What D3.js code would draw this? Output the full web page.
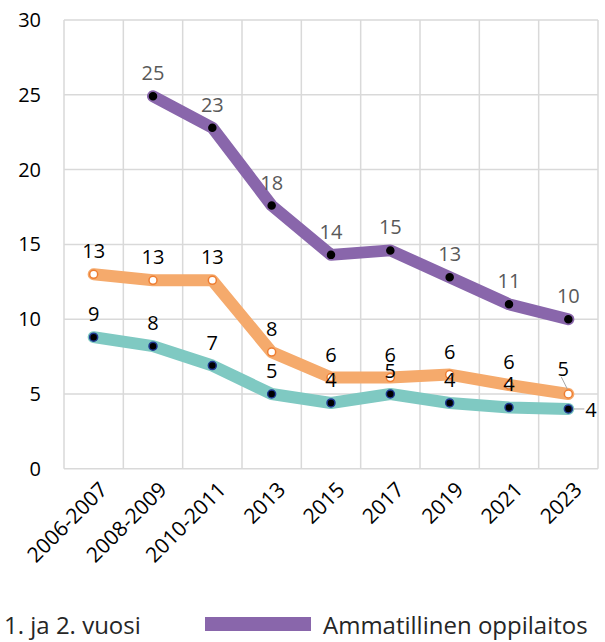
<!DOCTYPE html>
<html lang="fi">
<head>
<meta charset="utf-8">
<script src="https://d3js.org/d3.v7.min.js"></script>
<style>
  body { margin: 0; background: #ffffff; }
  svg { display: block; font-family: "Open Sans", sans-serif; }
</style>
</head>
<body>
<script>
// categories (x axis)
var years = ["2006-2007", "2008-2009", "2010-2011", "2013", "2015", "2017", "2019", "2021", "2023"];
var yTicks = [0, 5, 10, 15, 20, 25, 30];

// series values (null = no value)
var ammatillinen = [null, 24.9, 22.8, 17.6, 14.3, 14.6, 12.8, 11.0, 10.0];
var vuosi12 = [13.0, 12.6, 12.6, 7.8, 6.1, 6.1, 6.3, 5.6, 5.0];
var teal = [8.8, 8.2, 6.9, 5.0, 4.4, 5.0, 4.4, 4.1, 4.0];

// labels as printed on the chart
var ammatillinenLabels = ["", "25", "23", "18", "14", "15", "13", "11", "10"];
var vuosi12Labels = ["13", "13", "13", "8", "6", "6", "6", "6", "5"];
var tealLabels = ["9", "8", "7", "5", "4", "5", "4", "4", "4"];

var W = 605, H = 642;
var svg = d3.select("body").append("svg").attr("width", W).attr("height", H);

var x = d3.scaleBand().domain(years).range([64, 598]).padding(0);
var y = d3.scaleLinear().domain([0, 30]).range([468.8, 20]);

// gridlines
svg.append("g").selectAll("line.h")
  .data(yTicks).enter().append("line")
  .attr("x1", 64).attr("x2", 598)
  .attr("y1", function(d) { return y(d); })
  .attr("y2", function(d) { return y(d); })
  .attr("stroke", "#d9d9d9").attr("stroke-width", 1.5);

var bounds = years.map(function(d) { return x(d); }).concat([x.range()[1]]);
svg.append("g").selectAll("line.v")
  .data(bounds).enter().append("line")
  .attr("x1", function(d) { return d; }).attr("x2", function(d) { return d; })
  .attr("y1", y(30)).attr("y2", y(0))
  .attr("stroke", "#d9d9d9").attr("stroke-width", 1.5);

// y axis labels
var yAxis = d3.axisLeft(y).tickValues(yTicks).tickSize(0).tickPadding(0);
var ya = svg.append("g").attr("transform", "translate(41,0)").call(yAxis);
ya.select(".domain").remove();
ya.selectAll("text").attr("font-size", "20px").attr("fill", "#000").attr("font-family", "Open Sans, sans-serif");

// x axis labels
var xAxis = d3.axisBottom(x).tickSize(0).tickPadding(0);
var xa = svg.append("g").attr("transform", "translate(0,470)").call(xAxis);
xa.select(".domain").remove();
xa.selectAll("text")
  .attr("font-size", "21px").attr("fill", "#000").attr("font-family", "Open Sans, sans-serif")
  .attr("text-anchor", "end")
  .attr("dy", null).attr("y", 0)
  .attr("transform", "translate(15,21) rotate(-45)");

function cx(i) { return x(years[i]) + x.bandwidth() / 2; }

var line = d3.line()
  .defined(function(d) { return d != null; })
  .x(function(d, i) { return cx(i); })
  .y(function(d) { return y(d); });

function drawSeries(vals, color, markFill, markStroke, r) {
  svg.append("path").datum(vals)
    .attr("d", line)
    .attr("fill", "none").attr("stroke", color)
    .attr("stroke-width", 12).attr("stroke-linejoin", "round").attr("stroke-linecap", "round");
  svg.append("g").selectAll("circle")
    .data(vals.map(function(v, i) { return { v: v, i: i }; }).filter(function(d) { return d.v != null; }))
    .enter().append("circle")
    .attr("cx", function(d) { return cx(d.i); })
    .attr("cy", function(d) { return y(d.v); })
    .attr("r", r).attr("fill", markFill).attr("stroke", markStroke).attr("stroke-width", 1.5);
}

function drawLabels(vals, labels, color, skipLast) {
  svg.append("g").selectAll("text")
    .data(vals.map(function(v, i) { return { v: v, i: i, t: labels[i] }; })
      .filter(function(d) { return d.v != null && !(skipLast && d.i === vals.length - 1); }))
    .enter().append("text")
    .attr("x", function(d) { return cx(d.i); })
    .attr("y", function(d) { return y(d.v) - 16; })
    .attr("text-anchor", "middle")
    .attr("font-size", "20px").attr("fill", color)
    .text(function(d) { return d.t; });
}

drawSeries(teal, "#7fc9c2", "#000", "#1f3a93", 4);
drawSeries(vuosi12, "#f5aa6c", "#fff", "#ee7d31", 4);
drawSeries(ammatillinen, "#8966ab", "#000", "#000", 3.5);

drawLabels(ammatillinen, ammatillinenLabels, "#595959", false);
drawLabels(vuosi12, vuosi12Labels, "#000", true);
drawLabels(teal, tealLabels, "#000", true);

// last labels with leader lines
var li = years.length - 1;
svg.append("line")
  .attr("x1", cx(li) - 7).attr("y1", y(vuosi12[li]) - 17)
  .attr("x2", cx(li) - 1).attr("y2", y(vuosi12[li]) - 5)
  .attr("stroke", "#a6a6a6").attr("stroke-width", 1);
svg.append("text")
  .attr("x", cx(li) - 5).attr("y", y(vuosi12[li]) - 18)
  .attr("text-anchor", "middle").attr("font-size", "20px").attr("fill", "#000")
  .text(vuosi12Labels[li]);

svg.append("line")
  .attr("x1", cx(li) + 5).attr("y1", y(teal[li]))
  .attr("x2", cx(li) + 16).attr("y2", y(teal[li]))
  .attr("stroke", "#a6a6a6").attr("stroke-width", 1);
svg.append("text")
  .attr("x", cx(li) + 17).attr("y", y(teal[li]) + 8)
  .attr("font-size", "20px").attr("fill", "#000")
  .text(tealLabels[li]);

// legend
var lg = svg.append("g");
lg.append("text").attr("x", 4).attr("y", 634)
  .attr("font-size", "24px").attr("fill", "#262626").text("1. ja 2. vuosi");
lg.append("rect").attr("x", 205).attr("y", 617).attr("width", 106).attr("height", 14)
  .attr("fill", "#8966ab");
lg.append("text").attr("x", 323).attr("y", 634)
  .attr("font-size", "24px").attr("fill", "#262626").text("Ammatillinen oppilaitos");
</script>
</body>
</html>
